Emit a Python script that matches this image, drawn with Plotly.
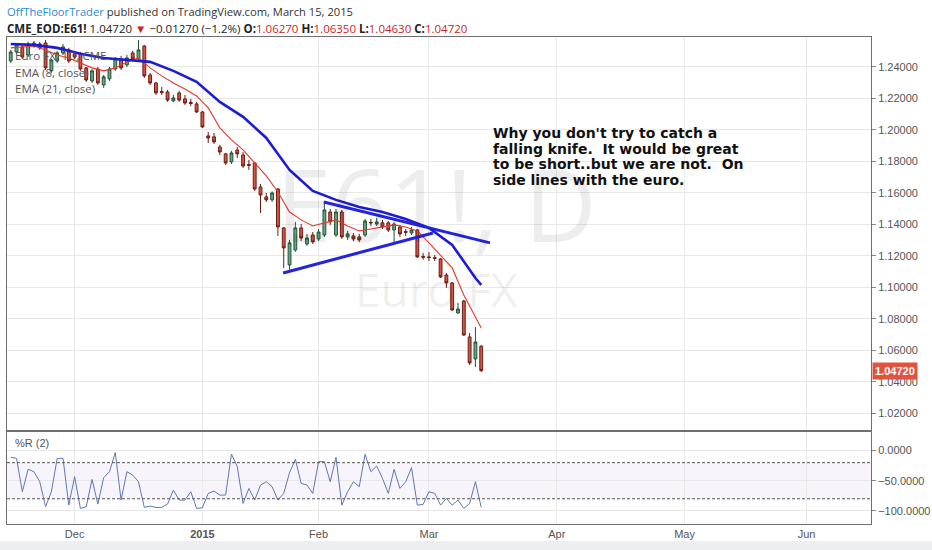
import plotly.graph_objects as go
import pandas as pd

# ---------------- data ----------------
holidays = ["2014-11-27", "2014-12-25", "2015-01-01", "2015-01-19", "2015-02-16"]
first_day, last_axis_day = "2014-11-13", "2015-06-30"

opens = [1.2438, 1.2495, 1.2527, 1.2476, 1.2533, 1.2546, 1.2552, 1.2375, 1.2438, 1.2489,
         1.2508, 1.2483, 1.2483, 1.2394, 1.2311, 1.2387, 1.2286, 1.2324, 1.2387, 1.2444,
         1.2413, 1.2489, 1.2451, 1.2533, 1.2349, 1.2298, 1.2244, 1.2241, 1.2184, 1.2235,
         1.2197, 1.2175, 1.2165, 1.2114, 1.1962, 1.1956, 1.1892, 1.1848, 1.1797, 1.1873,
         1.1841, 1.1781, 1.1790, 1.1638, 1.1575, 1.1556, 1.1625, 1.1378, 1.1143, 1.1238,
         1.1378, 1.1276, 1.1333, 1.1308, 1.1333, 1.1479, 1.1333, 1.1479, 1.1321, 1.1327,
         1.1321, 1.1333, 1.1413, 1.1403, 1.1410, 1.1410, 1.1365, 1.1384, 1.1355, 1.1346,
         1.1365, 1.1197, 1.1194, 1.1189, 1.1181, 1.1079, 1.1029, 1.0838, 1.0914, 1.0686,
         1.0546, 1.0627]
highs = [1.2508, 1.2552, 1.2540, 1.2560, 1.2565, 1.2558, 1.2571, 1.2451, 1.2500, 1.2546,
         1.2521, 1.2495, 1.2495, 1.2400, 1.2387, 1.2400, 1.2349, 1.2400, 1.2463, 1.2470,
         1.2476, 1.2502, 1.2571, 1.2540, 1.2362, 1.2305, 1.2273, 1.2254, 1.2222, 1.2248,
         1.2222, 1.2197, 1.2178, 1.2121, 1.1987, 1.1981, 1.1905, 1.1854, 1.1867, 1.1892,
         1.1860, 1.1810, 1.1797, 1.1657, 1.1600, 1.1610, 1.1632, 1.1384, 1.1302, 1.1416,
         1.1403, 1.1340, 1.1352, 1.1371, 1.1543, 1.1498, 1.1498, 1.1492, 1.1359, 1.1346,
         1.1340, 1.1435, 1.1435, 1.1441, 1.1428, 1.1422, 1.1416, 1.1397, 1.1371, 1.1384,
         1.1371, 1.1219, 1.1225, 1.1206, 1.1187, 1.1092, 1.1035, 1.0902, 1.0921, 1.0711,
         1.0749, 1.0635]
lows = [1.2425, 1.2483, 1.2451, 1.2463, 1.2521, 1.2508, 1.2381, 1.2362, 1.2425, 1.2476,
        1.2425, 1.2451, 1.2375, 1.2305, 1.2298, 1.2286, 1.2267, 1.2311, 1.2375, 1.2381,
        1.2400, 1.2438, 1.2438, 1.2330, 1.2286, 1.2222, 1.2222, 1.2178, 1.2178, 1.2178,
        1.2159, 1.2152, 1.2108, 1.2013, 1.1917, 1.1911, 1.1841, 1.1778, 1.1784, 1.1822,
        1.1759, 1.1746, 1.1613, 1.1473, 1.1543, 1.1543, 1.1327, 1.1124, 1.1111, 1.1226,
        1.1295, 1.1264, 1.1276, 1.1295, 1.1321, 1.1397, 1.1321, 1.1308, 1.1302, 1.1295,
        1.1289, 1.1321, 1.1390, 1.1390, 1.1371, 1.1352, 1.1289, 1.1321, 1.1327, 1.1333,
        1.1187, 1.1175, 1.1168, 1.1168, 1.1060, 1.0997, 1.0851, 1.0832, 1.0692, 1.0508,
        1.0495, 1.0463]
closes = [1.2495, 1.2540, 1.2463, 1.2546, 1.2552, 1.2521, 1.2394, 1.2444, 1.2489, 1.2527,
          1.2438, 1.2463, 1.2387, 1.2317, 1.2375, 1.2298, 1.2337, 1.2387, 1.2451, 1.2394,
          1.2457, 1.2451, 1.2508, 1.2343, 1.2298, 1.2235, 1.2238, 1.2190, 1.2203, 1.2190,
          1.2171, 1.2168, 1.2114, 1.2019, 1.1949, 1.1924, 1.1860, 1.1790, 1.1854, 1.1848,
          1.1771, 1.1775, 1.1625, 1.1587, 1.1556, 1.1600, 1.1384, 1.1251, 1.1283, 1.1378,
          1.1314, 1.1314, 1.1289, 1.1352, 1.1492, 1.1416, 1.1479, 1.1321, 1.1340, 1.1308,
          1.1302, 1.1422, 1.1410, 1.1416, 1.1384, 1.1365, 1.1403, 1.1340, 1.1350, 1.1365,
          1.1194, 1.1192, 1.1190, 1.1185, 1.1067, 1.1029, 1.0857, 1.0863, 1.0698, 1.0521,
          1.0654, 1.0472]

ema8_bar = [0, 2, 4, 6, 8, 10, 12, 14, 16, 18, 20, 22, 24, 26, 28, 30, 32, 34, 36, 38, 40,
            42, 44, 46, 48, 50, 52, 54, 56, 58, 60, 62, 64, 66, 68, 70, 72, 74, 76, 78, 80, 81]
ema8_val = [1.2521, 1.2527, 1.2533, 1.2508, 1.2476, 1.2457, 1.2425, 1.2394, 1.2375, 1.2394,
            1.2432, 1.2457, 1.2394, 1.2343, 1.2298, 1.2260, 1.2216, 1.2140, 1.2013, 1.1937,
            1.1873, 1.1790, 1.1708, 1.1606, 1.1479, 1.1429, 1.1390, 1.1410, 1.1429, 1.1390,
            1.1359, 1.1371, 1.1384, 1.1397, 1.1384, 1.1359, 1.1283, 1.1206, 1.1124, 1.0952,
            1.0806, 1.0743]
ema21_bar = [0, 4, 8, 12, 16, 20, 24, 28, 32, 36, 40, 44, 48, 52, 56, 60, 64, 68, 72, 76, 80, 81]
ema21_val = [1.2546, 1.2540, 1.2521, 1.2483, 1.2457, 1.2444, 1.2432, 1.2375, 1.2305, 1.2178,
             1.2083, 1.1949, 1.1746, 1.1613, 1.1556, 1.1511, 1.1479, 1.1435, 1.1378, 1.1270,
             1.1060, 1.1016]

pct_r = [-11.1, -12.8, -68.3, -31.1, -35.0, -51.7, -93.3, -68.3, -12.8, -12.8,
         -90.6, -43.3, -96.1, -93.3, -47.8, -88.9, -45.0, -35.0, -3.3, -82.2,
         -35.0, -40.6, -51.7, -94.4, -92.2, -94.4, -94.4, -88.9, -65.6, -82.2,
         -82.2, -68.3, -96.1, -95.0, -71.1, -67.2, -73.9, -73.9, -5.6, -26.7,
         -87.8, -62.8, -82.2, -57.2, -51.7, -60.0, -82.2, -71.1, -36.7, -14.4,
         -54.4, -57.2, -71.1, -18.3, -18.3, -51.7, -11.1, -90.6, -68.3, -51.7,
         -60.0, -6.1, -35.0, -25.6, -46.1, -71.1, -31.1, -62.8, -51.7, -28.3,
         -90.6, -89.4, -68.3, -71.1, -90.6, -79.4, -90.6, -82.2, -96.1, -87.8,
         -51.7, -94.4]

# hand drawn trend lines (bar position, price)
upper_trend_bar = [53.9, 82.5]
upper_trend_val = [1.1543, 1.1283]
lower_trend_bar = [46.9, 72.7]
lower_trend_val = [1.1092, 1.1346]

price_ticks = [1.02, 1.04, 1.06, 1.08, 1.10, 1.12, 1.14, 1.16, 1.18, 1.20, 1.22, 1.24]
r_ticks = [0, -50, -100]
month_labels = {"2014-12": "Dec", "2015-01": "<b>2015</b>", "2015-02": "Feb", "2015-03": "Mar",
                "2015-04": "Apr", "2015-05": "May", "2015-06": "Jun"}
last_price = 1.0472

comment_lines = ["Why you don't try to catch a",
                 "falling knife.  It would be great",
                 "to be short..but we are not.  On",
                 "side lines with the euro."]

# ---------------- session index (bar axis) ----------------
sessions = [d for d in pd.bdate_range(first_day, last_axis_day)
            if d.strftime("%Y-%m-%d") not in holidays or d > pd.Timestamp("2015-03-13")]
bars = list(range(len(opens)))
tickvals, ticktext, seen = [], [], set()
for i, d in enumerate(sessions):
    key = d.strftime("%Y-%m")
    if key in month_labels and key not in seen:
        seen.add(key)
        tickvals.append(i)
        ticktext.append(month_labels[key])

# ---------------- layout helpers ----------------
W, H = 932, 550
ML, MR, MT, MB = 7, 61, 37, 26
PW, PH = W - ML - MR, H - MT - MB


def pxx(p):
    return (p - ML) / PW


def pxy(p):
    return 1 - (p - MT) / PH


main_dom = [(H - MB - 430) / PH, 1.0]
r_dom = [0.0, (H - MB - 432) / PH]

fig = go.Figure()

fig.add_trace(go.Candlestick(
    x=bars, open=opens, high=highs, low=lows, close=closes,
    increasing=dict(line=dict(color="#225437", width=1), fillcolor="#6ba583"),
    decreasing=dict(line=dict(color="#6b1d14", width=1), fillcolor="#d75442"),
    xaxis="x", yaxis="y", showlegend=False, hoverinfo="skip"))

fig.add_trace(go.Scatter(x=ema8_bar, y=ema8_val, mode="lines",
                         line=dict(color="#e8392c", width=1.1), xaxis="x", yaxis="y",
                         showlegend=False, hoverinfo="skip"))
fig.add_trace(go.Scatter(x=ema21_bar, y=ema21_val, mode="lines",
                         line=dict(color="#1c1cd6", width=2.6), xaxis="x", yaxis="y",
                         showlegend=False, hoverinfo="skip"))
for tb, tv in [(upper_trend_bar, upper_trend_val), (lower_trend_bar, lower_trend_val)]:
    fig.add_trace(go.Scatter(x=tb, y=tv, mode="lines",
                             line=dict(color="#2424e0", width=3), xaxis="x", yaxis="y",
                             showlegend=False, hoverinfo="skip"))

fig.add_trace(go.Scatter(x=bars, y=pct_r, mode="lines",
                         line=dict(color="#5b79b3", width=1), xaxis="x2", yaxis="y2",
                         showlegend=False, hoverinfo="skip"))

xrange = [-0.64, 148.1]
grid = "#e8e8e8"
axis_line = "#6f6f6f"
tick_font = dict(family="Liberation Sans, Arial", size=11, color="#555555")

fig.update_layout(
    width=W, height=H, margin=dict(l=ML, r=MR, t=MT, b=MB, autoexpand=False),
    paper_bgcolor="#ffffff", plot_bgcolor="#ffffff",
    hovermode=False, showlegend=False,
    xaxis=dict(domain=[0, 1], anchor="y", range=xrange, tickvals=tickvals, ticktext=ticktext,
               showticklabels=False, ticks="", showgrid=True, gridcolor=grid, zeroline=False,
               showline=True, mirror=True, linecolor=axis_line, linewidth=1,
               automargin=False, rangeslider=dict(visible=False)),
    yaxis=dict(domain=main_dom, anchor="x", side="right", range=[1.0095, 1.259],
               tickvals=price_ticks, tickformat=".5f", ticks="outside", ticklen=4,
               tickcolor="#888", tickfont=tick_font, showgrid=True, gridcolor=grid,
               zeroline=False, showline=True, mirror=True, linecolor=axis_line, linewidth=1,
               automargin=False),
    xaxis2=dict(domain=[0, 1], anchor="y2", range=xrange, matches="x", tickvals=tickvals,
                ticktext=ticktext, ticks="", tickfont=tick_font, showgrid=True,
                gridcolor=grid, zeroline=False, showline=True, mirror=True,
                linecolor=axis_line, linewidth=1, automargin=False),
    yaxis2=dict(domain=r_dom, anchor="x2", side="right", range=[-122, 31],
                tickvals=r_ticks, tickformat=".4f", ticks="outside", ticklen=4,
                tickcolor="#888", tickfont=tick_font, showgrid=True, gridcolor=grid,
                zeroline=False, showline=True, mirror=True, linecolor=axis_line, linewidth=1,
                automargin=False),
)

# %R band and levels
fig.add_shape(type="rect", xref="x2 domain", yref="y2", x0=0, x1=1, y0=-80, y1=-20,
              fillcolor="rgba(150,100,210,0.07)", line=dict(width=0), layer="below")
for lvl in (-20, -80):
    fig.add_shape(type="line", xref="x2 domain", yref="y2", x0=0, x1=1, y0=lvl, y1=lvl,
                  line=dict(color="#555555", width=1, dash="3px,2px"))

# bottom gray strip
fig.add_shape(type="rect", xref="paper", yref="paper", x0=pxx(0), x1=pxx(W),
              y0=pxy(H), y1=pxy(541), fillcolor="#eceef2", line=dict(width=0))

ann = []
# watermark
ann.append(dict(x=pxx(436), y=pxy(203), xref="paper", yref="paper", text="E61!, D",
                showarrow=False, font=dict(family="Open Sans, Arial", size=100,
                                           color="rgba(0,0,0,0.07)")))
ann.append(dict(x=pxx(436), y=pxy(289), xref="paper", yref="paper", text="Euro FX",
                showarrow=False, font=dict(family="Open Sans, Arial", size=46,
                                           color="rgba(0,0,0,0.07)")))
# header
ann.append(dict(x=pxx(5), y=pxy(12), xref="paper", yref="paper", xanchor="left",
                yanchor="middle", showarrow=False,
                text="<span style='color:#2a8ad3'>OffTheFloorTrader</span> published on "
                     "TradingView.com, March 15, 2015",
                font=dict(family="Open Sans", size=11.2, color="#333333")))
red = "#c62828"
ann.append(dict(x=pxx(5), y=pxy(28), xref="paper", yref="paper", xanchor="left",
                yanchor="middle", showarrow=False,
                text=("<b>CME_EOD:E61!</b> 1.04720 <span style='color:%s'>▼</span> "
                      "−0.01270 (−1.2%%) <b>O:</b><span style='color:%s'>1.06270</span> "
                      "<b>H:</b><span style='color:%s'>1.06350</span> "
                      "<b>L:</b><span style='color:%s'>1.04630</span> "
                      "<b>C:</b><span style='color:%s'>1.04720</span>") % (red, red, red, red, red),
                font=dict(family="Open Sans", size=11.5, color="#222222")))
# pane legends
for txt, py in [("Euro FX, 1D, CME", 56), ("EMA (8, close)", 72), ("EMA (21, close)", 88)]:
    ann.append(dict(x=pxx(13), y=pxy(py), xref="paper", yref="paper", xanchor="left",
                    yanchor="middle", showarrow=False, text=txt,
                    font=dict(family="Open Sans", size=11.5, color="#555555")))
ann.append(dict(x=pxx(13), y=pxy(443), xref="paper", yref="paper", xanchor="left",
                yanchor="middle", showarrow=False, text="%R (2)",
                font=dict(family="Liberation Sans, Arial", size=11, color="#555555")))
# comment
for k, line in enumerate(comment_lines):
    ann.append(dict(x=pxx(491), y=pxy(133 + k * 15.6), xref="paper", yref="paper",
                    xanchor="left", yanchor="middle", showarrow=False, text=line,
                    font=dict(family="DejaVu Sans", size=14, color="#111111", weight="bold")))
# last price label
ann.append(dict(x=pxx(872), y=last_price, xref="paper", yref="y", xanchor="left",
                yanchor="middle", showarrow=False, text="<b>%.5f</b>" % last_price,
                bgcolor="#e0533f", borderpad=2,
                font=dict(family="Liberation Sans, Arial", size=11, color="#ffffff")))

fig.update_layout(annotations=ann)
fig.write_html("out.html", config={"displayModeBar": False, "staticPlot": True},
               post_script="document.body.style.margin='0px';"
                           "document.body.style.overflow='hidden';")
